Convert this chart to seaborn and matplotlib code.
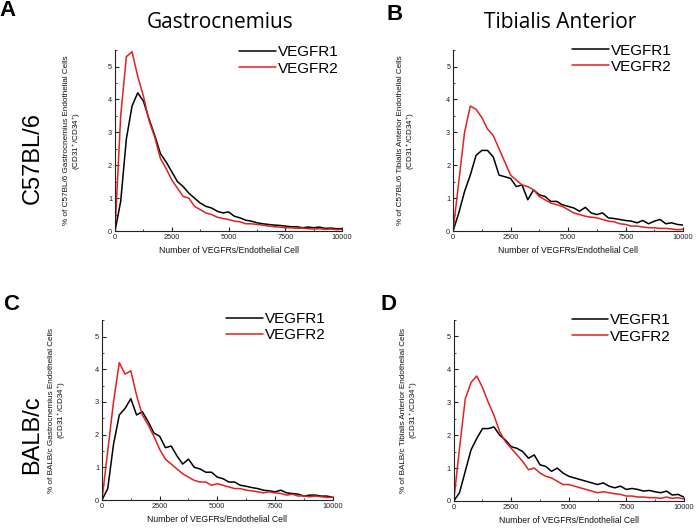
import numpy as np
import pandas as pd
import seaborn as sns
import matplotlib.pyplot as plt
from matplotlib.ticker import MultipleLocator

# bins of receptor number (x axis)
bins = list(range(0, 10001, 250))

# A - C57BL/6 gastrocnemius
a_vegfr1 = [0, 0.9, 2.8, 3.8, 4.2, 3.95, 3.4, 2.9, 2.35, 2.1, 1.8, 1.5, 1.35, 1.15, 1.0, 0.85,
            0.75, 0.7, 0.6, 0.55, 0.58, 0.45, 0.4, 0.33, 0.3, 0.25, 0.22, 0.2, 0.18, 0.17, 0.15,
            0.13, 0.13, 0.1, 0.12, 0.1, 0.12, 0.08, 0.09, 0.07, 0.07]
a_vegfr2 = [0, 3.5, 5.3, 5.45, 4.7, 4.1, 3.35, 2.85, 2.2, 1.9, 1.55, 1.3, 1.05, 1.0, 0.75, 0.65,
            0.55, 0.5, 0.42, 0.38, 0.35, 0.3, 0.28, 0.22, 0.22, 0.2, 0.18, 0.15, 0.13, 0.12, 0.1,
            0.1, 0.08, 0.09, 0.07, 0.06, 0.07, 0.05, 0.06, 0.04, 0.05]

# B - C57BL/6 tibialis anterior
b_vegfr1 = [0, 0.55, 1.2, 1.7, 2.3, 2.45, 2.45, 2.25, 1.7, 1.65, 1.6, 1.35, 1.4, 0.95, 1.25, 1.1,
            1.05, 0.9, 0.9, 0.8, 0.75, 0.7, 0.6, 0.72, 0.55, 0.5, 0.55, 0.4, 0.38, 0.35, 0.32,
            0.3, 0.25, 0.32, 0.22, 0.3, 0.35, 0.22, 0.25, 0.2, 0.18]
b_vegfr2 = [0, 1.5, 3.0, 3.8, 3.7, 3.45, 3.1, 2.9, 2.5, 2.1, 1.7, 1.55, 1.4, 1.35, 1.25, 1.05,
            0.95, 0.85, 0.8, 0.75, 0.65, 0.55, 0.5, 0.45, 0.42, 0.4, 0.35, 0.3, 0.28, 0.22, 0.2,
            0.15, 0.15, 0.12, 0.1, 0.1, 0.08, 0.08, 0.06, 0.04, 0.05]

# C - BALB/c gastrocnemius
c_vegfr1 = [0, 0.35, 1.7, 2.6, 2.8, 3.1, 2.6, 2.7, 2.4, 2.05, 1.95, 1.6, 1.65, 1.35, 1.1, 1.25,
            1.0, 0.95, 0.85, 0.85, 0.7, 0.65, 0.55, 0.55, 0.45, 0.42, 0.38, 0.35, 0.3, 0.28, 0.25,
            0.3, 0.22, 0.2, 0.18, 0.12, 0.15, 0.15, 0.12, 0.12, 0.08]
c_vegfr2 = [0, 1.5, 3.0, 4.2, 3.85, 3.95, 3.2, 2.6, 2.3, 1.95, 1.55, 1.25, 1.1, 0.95, 0.8, 0.7,
            0.6, 0.55, 0.55, 0.45, 0.5, 0.45, 0.4, 0.35, 0.35, 0.3, 0.28, 0.25, 0.22, 0.25, 0.22,
            0.2, 0.15, 0.18, 0.12, 0.13, 0.1, 0.12, 0.1, 0.08, 0.08]

# D - BALB/c tibialis anterior
d_vegfr1 = [0, 0.25, 0.9, 1.55, 1.9, 2.2, 2.2, 2.25, 2.0, 1.85, 1.65, 1.6, 1.5, 1.3, 1.4, 1.1,
            1.05, 0.9, 1.0, 0.85, 0.75, 0.7, 0.65, 0.6, 0.55, 0.5, 0.55, 0.45, 0.4, 0.45, 0.35,
            0.38, 0.35, 0.3, 0.32, 0.28, 0.25, 0.3, 0.18, 0.2, 0.12]
d_vegfr2 = [0, 1.6, 3.1, 3.6, 3.8, 3.45, 3.0, 2.6, 2.1, 1.8, 1.6, 1.4, 1.2, 0.95, 1.0, 0.85,
            0.75, 0.7, 0.6, 0.5, 0.5, 0.45, 0.4, 0.35, 0.3, 0.25, 0.28, 0.25, 0.22, 0.2, 0.15,
            0.15, 0.12, 0.12, 0.1, 0.1, 0.08, 0.12, 0.08, 0.1, 0.06]

x_ticks = [0, 2500, 5000, 7500, 10000]
y_ticks = [0, 1, 2, 3, 4, 5]

sns.set_style('ticks')
plt.rcParams['font.family'] = ['Liberation Sans', 'DejaVu Sans']
plt.rcParams['mathtext.default'] = 'regular'
plt.rcParams['text.color'] = 'black'

fig = plt.figure(figsize=(6.97, 5.29), dpi=100)

panels = [
    # rect, series1, series2, ylabel, legend anchor, ylabel x
    ([0.165, 0.5633, 0.326, 0.342], a_vegfr1, a_vegfr2,
     '% of C57BL/6 Gastrocnemius Endothelial Cells', (1.01, 1.06), -0.14),
    ([0.650, 0.5633, 0.330, 0.342], b_vegfr1, b_vegfr2,
     '% of C57BL/6 Tibialis Anterior Endothelial Cells', (0.975, 1.07), -0.157),
    ([0.1463, 0.0548, 0.331, 0.340], c_vegfr1, c_vegfr2,
     '% of BALB/c Gastrocnemius Endothelial Cells', (0.995, 1.08), -0.147),
    ([0.651, 0.053, 0.330, 0.342], d_vegfr1, d_vegfr2,
     '% of BALB/c Tibialis Anterior Endothelial Cells', (0.97, 1.07), -0.148),
]

red = '#e3201f'
for rect, s1, s2, ylab, anchor, ylx in panels:
    ax = fig.add_axes(rect)
    sns.lineplot(x=bins, y=s1, color='black', lw=1.1, label='VEGFR1', ax=ax)
    sns.lineplot(x=bins, y=s2, color=red, lw=1.1, label='VEGFR2', ax=ax)
    ax.set_xlim(0, 10000)
    ax.set_ylim(0, 5.5)
    ax.set_xticks(x_ticks)
    ax.set_yticks(y_ticks)
    ax.xaxis.set_minor_locator(MultipleLocator(1250))
    ax.yaxis.set_minor_locator(MultipleLocator(0.5))
    ax.tick_params(which='major', direction='in', length=3, width=0.8, labelsize=5.3,
                   labelcolor='#222222', pad=2, color='#222222')
    ax.tick_params(which='minor', direction='in', length=1.5, width=0.6, color='#222222')
    for sp in ['top', 'right']:
        ax.spines[sp].set_visible(False)
    for sp in ['left', 'bottom']:
        ax.spines[sp].set_linewidth(0.8)
        ax.spines[sp].set_color('#222222')
    ax.set_xlabel('Number of VEGFRs/Endothelial Cell', fontsize=6.2, color='#111111', labelpad=4)
    ax.set_ylabel(ylab + '\n(CD31$^{+}$/CD34$^{+}$)', fontsize=5.9, color='#111111',
                  linespacing=1.1)
    ax.yaxis.set_label_coords(ylx, 0.5)
    leg = ax.legend(loc='upper right', bbox_to_anchor=anchor, frameon=False, fontsize=11,
                    handlelength=2.4, handletextpad=0.1, labelspacing=0.15, borderaxespad=0)
    for t in leg.get_texts():
        t.set_color('black')

# column titles
fig.text(220 / 697, 1 - 23 / 529, 'Gastrocnemius', fontsize=15, family='Open Sans',
         ha='center', va='center', color='black')
fig.text(560 / 697, 1 - 23 / 529, 'Tibialis Anterior', fontsize=15, family='Open Sans',
         ha='center', va='center', color='black')

# row labels
fig.text(33 / 697, 1 - 158 / 529, 'C57BL/6', fontsize=17, rotation=90, ha='center', va='center',
         color='black')
fig.text(32 / 697, 1 - 435 / 529, 'BALB/c', fontsize=17, rotation=90, ha='center', va='center',
         color='black')

# panel letters
for letter, px, py in [('A', 8, 11), ('B', 395, 14), ('C', 11, 304), ('D', 388, 304)]:
    fig.text(px / 697, 1 - py / 529, letter, fontsize=16, fontweight='bold',
             ha='center', va='center', color='black')

fig.savefig('out.png', dpi=100)
